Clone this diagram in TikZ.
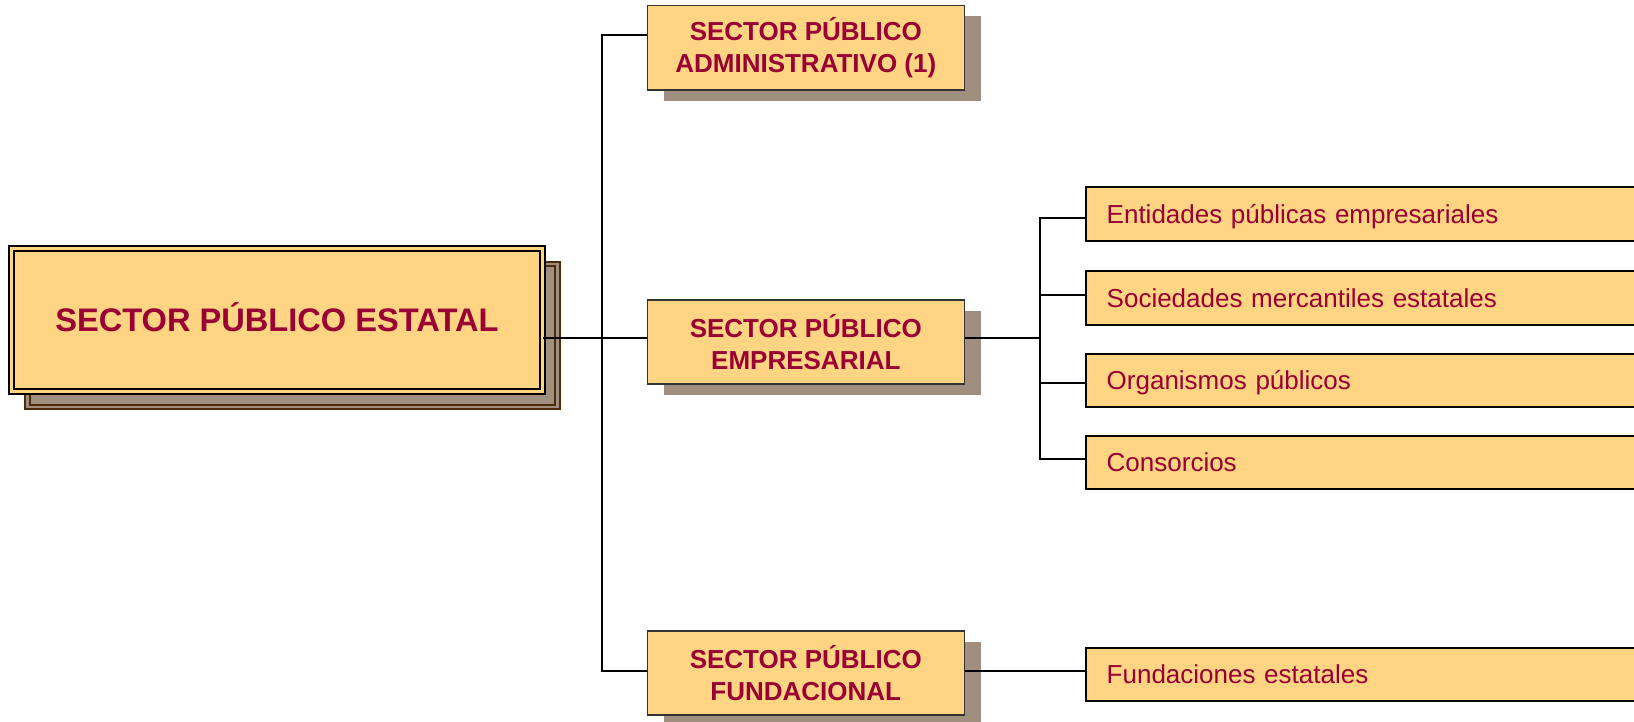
\documentclass[tikz,border=0pt]{standalone}
\usepackage{fontspec}
\setmainfont{Liberation Sans}
\usetikzlibrary{shadows}
\definecolor{boxfill}{HTML}{FFD583}
\definecolor{txtc}{HTML}{990033}
\definecolor{shade}{HTML}{A08F7E}
\definecolor{brownline}{HTML}{4A2C0C}
\begin{document}
\begin{tikzpicture}[x=1pt,y=-1pt,
  conn/.style={line width=2pt, draw=black},
  secbox/.style={draw=black!80, line width=1.5pt, fill=boxfill, text=txtc,
    font=\fontsize{26}{32}\selectfont\bfseries, align=center,
    minimum width=317pt, minimum height=84.3pt, inner sep=0pt,
    general shadow={fill=shade, shadow xshift=16.4pt, shadow yshift=-10.7pt}},
  subbox/.style={draw=black, line width=2pt, fill=boxfill, text=txtc,
    font=\fontsize{26}{31}\selectfont, align=left, text width=532.3pt,
    inner xsep=21pt, inner ysep=0pt, minimum height=53.4pt,
    text height=20.6pt, text depth=2pt},
  mainbox/.style={draw=black, line width=2pt, double=boxfill, double distance=3pt,
    fill=boxfill, minimum width=530.2pt, minimum height=143pt, inner sep=0pt,
    text=txtc, font=\fontsize{32.6}{38}\selectfont\bfseries,
    text height=23pt, text depth=0pt}
]
\useasboundingbox (0,0) rectangle (1634,721);
\clip (0,0) rectangle (1634,721);
\fill[white] (0,0) rectangle (1634,721);

% shadow of the main box
\draw[draw=brownline, line width=2pt, double=shade, double distance=2.5pt, fill=shade]
  (27.7,264) rectangle (557.5,407);
\node[mainbox] (main) at (276.9,320) {SECTOR PÚBLICO ESTATAL};

\node[secbox] (spa) at (805.8,47.85) {SECTOR PÚBLICO\\ADMINISTRATIVO (1)};
\node[secbox] (spe) at (805.8,342) {SECTOR PÚBLICO\\EMPRESARIAL};
\node[secbox] (spf) at (805.8,673) {SECTOR PÚBLICO\\FUNDACIONAL};

\node[subbox] (ent) at (1372.85,214) {Entidades públicas empresariales};
\node[subbox] (soc) at (1372.85,298) {Sociedades mercantiles estatales};
\node[subbox] (org) at (1372.85,380.3) {Organismos públicos};
\node[subbox] (con) at (1372.85,462.2) {Consorcios};
\node[subbox] (fun) at (1372.85,674.35) {Fundaciones estatales};

\coordinate (t1) at (601.7,338.3);
\coordinate (t2) at (1040.3,338.3);

\draw[conn] ([yshift=-18.3pt]main.east) -- (t1) -- ([yshift=3.7pt]spe.west);
\draw[conn] (t1) |- ([yshift=12.85pt]spa.west);
\draw[conn] (t1) |- ([yshift=2.3pt]spf.west);
\draw[conn] ([yshift=3.7pt]spe.east) -- (t2);
\draw[conn] (t2) |- ([yshift=-3.7pt]ent.west);
\draw[conn] (t2) |- ([yshift=3pt]soc.west);
\draw[conn] (t2) |- ([yshift=-3pt]org.west);
\draw[conn] (t2) |- ([yshift=3.2pt]con.west);
\draw[conn] ([yshift=2.3pt]spf.east) -- ([yshift=2.3pt]spf.east -| fun.west);
\end{tikzpicture}
\end{document}
